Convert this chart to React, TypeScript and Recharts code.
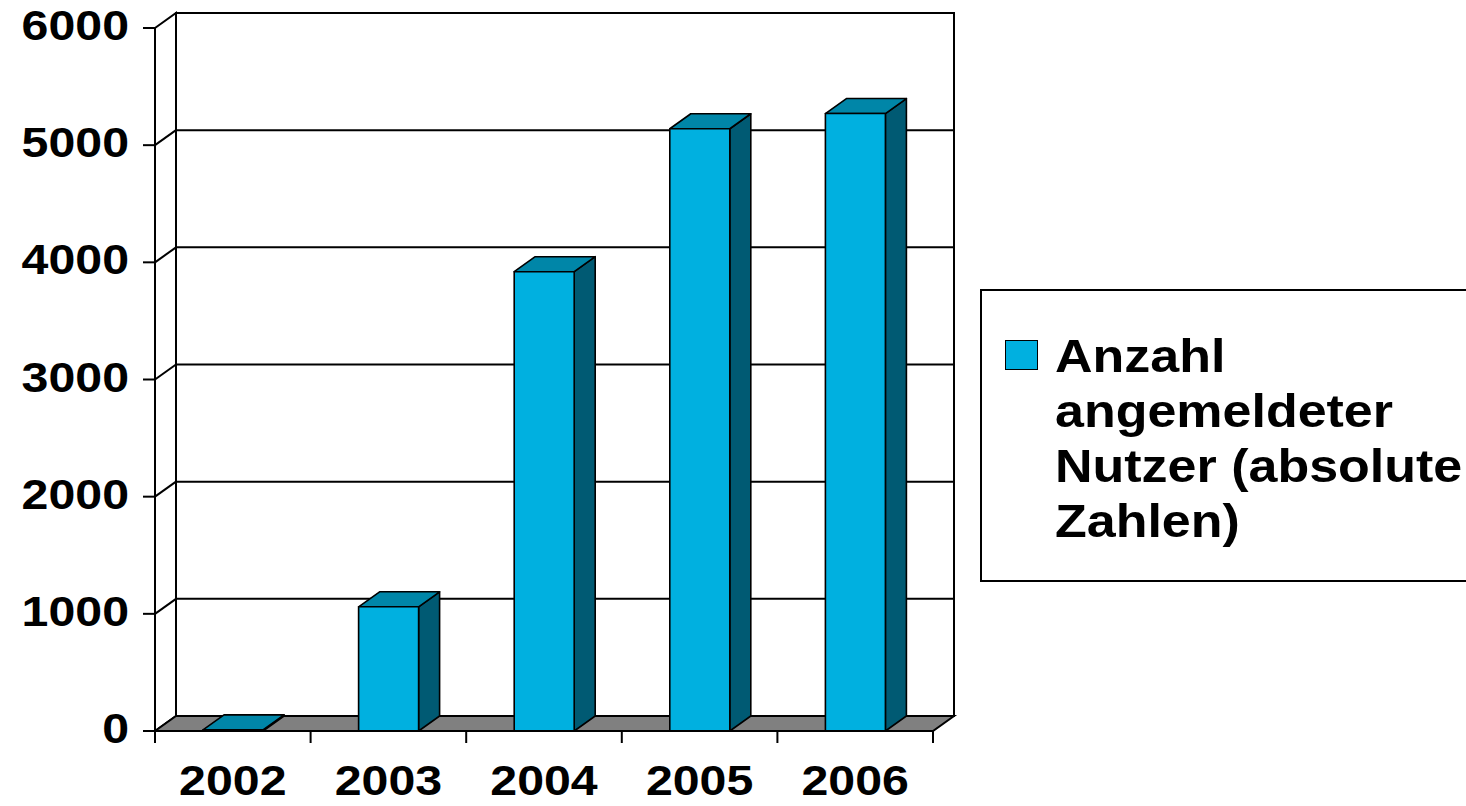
import React from "react";
import {
  BarChart,
  Bar,
  XAxis,
  YAxis,
  Legend,
  ReferenceArea,
  ReferenceLine,
} from "recharts";

// Werte
const years = ["2002", "2003", "2004", "2005", "2006"];
const users = [10, 1060, 3920, 5140, 5270];
const yTicks = [0, 1000, 2000, 3000, 4000, 5000, 6000];
const gridValues = [1000, 2000, 3000, 4000, 5000];
const seriesName = "Anzahl angemeldeter Nutzer (absolute Zahlen)";

const data = years.map((year, i) => ({ year, users: users[i] }));

// 3D-Tiefe (Versatz nach hinten)
const DX = 21;
const DY = -15;

const FRONT = "#00B0E0";
const TOP = "#0086A8";
const SIDE = "#005A73";
const FLOOR = "#808080";
const FONT = "'Liberation Sans', Arial, sans-serif";

const Bar3D = (props: any) => {
  const { x, y, width, height } = props;
  if (x == null || y == null) return null;
  const w = width;
  const h = Math.max(height, 0);
  return (
    <g stroke="#000" strokeWidth={1.6} strokeLinejoin="round">
      <polygon
        points={`${x + w},${y} ${x + w + DX},${y + DY} ${x + w + DX},${y + h + DY} ${x + w},${y + h}`}
        fill={SIDE}
      />
      <polygon
        points={`${x},${y} ${x + DX},${y + DY} ${x + w + DX},${y + DY} ${x + w},${y}`}
        fill={TOP}
      />
      <rect x={x} y={y} width={w} height={h} fill={FRONT} />
    </g>
  );
};

const Walls = (props: any) => {
  const { x, y, width, height } = props;
  const b = y + height;
  return (
    <g stroke="#000" strokeWidth={2}>
      <rect x={x + DX} y={y + DY} width={width} height={height} fill="#fff" />
      <polygon
        points={`${x},${y} ${x + DX},${y + DY} ${x + DX},${b + DY} ${x},${b}`}
        fill="#fff"
      />
      <polygon
        points={`${x},${b} ${x + DX},${b + DY} ${x + width + DX},${b + DY} ${x + width},${b}`}
        fill={FLOOR}
      />
    </g>
  );
};

const GridLine3D = (props: any) => {
  const { x1, y1, x2 } = props;
  const left = Math.min(x1, x2);
  const right = Math.max(x1, x2);
  return (
    <g stroke="#000" strokeWidth={2}>
      <line x1={left} y1={y1} x2={left + DX} y2={y1 + DY} />
      <line x1={left + DX} y1={y1 + DY} x2={right + DX} y2={y1 + DY} />
    </g>
  );
};

const YTick = (props: any) => {
  const { x, y, payload } = props;
  return (
    <g transform={`translate(${x - 12},${y + 12}) scale(1.15,1)`}>
      <text
        textAnchor="end"
        fontFamily={FONT}
        fontWeight="bold"
        fontSize={42}
        fill="#000"
      >
        {payload.value}
      </text>
    </g>
  );
};

const XTick = (props: any) => {
  const { x, y, payload, index, visibleTicksCount, width } = props;
  const half =
    typeof payload.offset === "number" && payload.offset > 0
      ? payload.offset
      : width / visibleTicksCount / 2;
  const last = index === visibleTicksCount - 1;
  return (
    <g>
      <line x1={x - half} y1={y - 14} x2={x - half} y2={y - 2} stroke="#000" strokeWidth={2} />
      {last && (
        <line x1={x + half} y1={y - 14} x2={x + half} y2={y - 2} stroke="#000" strokeWidth={2} />
      )}
      <g transform={`translate(${x},${y + 50}) scale(1.15,1)`}>
        <text
          textAnchor="middle"
          fontFamily={FONT}
          fontWeight="bold"
          fontSize={42}
          fill="#000"
        >
          {payload.value}
        </text>
      </g>
    </g>
  );
};

const LegendBox = (props: any) => {
  const item = props.payload && props.payload[0];
  const label = item ? item.value : seriesName;
  return (
    <div
      style={{
        position: "relative",
        width: "100%",
        height: "100%",
        boxSizing: "border-box",
        border: "2px solid #000",
        background: "#fff",
      }}
    >
      <div
        style={{
          position: "absolute",
          left: 23,
          top: 49,
          width: 33,
          height: 30,
          boxSizing: "border-box",
          border: "1.5px solid #000",
          background: FRONT,
        }}
      />
      <div
        style={{
          position: "absolute",
          left: 73,
          top: 37.6,
          width: 370,
          fontFamily: FONT,
          fontWeight: "bold",
          fontSize: 46,
          lineHeight: "55px",
          color: "#000",
          transform: "scaleX(1.13)",
          transformOrigin: "left top",
        }}
      >
        {label}
      </div>
    </div>
  );
};

export default function App() {
  return (
    <div
      style={{
        position: "fixed",
        left: 0,
        top: 0,
        width: 1466,
        height: 806,
        overflow: "hidden",
        background: "#fff",
      }}
    >
      <BarChart
        width={1466}
        height={806}
        data={data}
        margin={{ top: 28, right: 533, bottom: 0, left: 0 }}
      >
        <ReferenceArea y1={0} y2={6000} shape={Walls} zIndex={-20} ifOverflow="visible" />
        {gridValues.map((v) => (
          <ReferenceLine key={v} y={v} shape={GridLine3D} zIndex={-10} />
        ))}
        <XAxis
          dataKey="year"
          height={75}
          interval={0}
          tickLine={false}
          tickSize={12}
          tickMargin={2}
          axisLine={{ stroke: "#000", strokeWidth: 2 }}
          tick={<XTick />}
        />
        <YAxis
          width={155}
          domain={[0, 6000]}
          ticks={yTicks}
          interval={0}
          tickSize={12}
          tickMargin={2}
          axisLine={{ stroke: "#000", strokeWidth: 2 }}
          tickLine={{ stroke: "#000", strokeWidth: 2 }}
          tick={<YTick />}
        />
        <Bar
          dataKey="users"
          name={seriesName}
          fill={FRONT}
          barSize={60}
          shape={Bar3D}
          isAnimationActive={false}
        />
        <Legend
          layout="horizontal"
          verticalAlign="middle"
          align="center"
          content={<LegendBox />}
          wrapperStyle={{ left: 980, top: 289, width: 520, height: 293 }}
        />
      </BarChart>
    </div>
  );
}
